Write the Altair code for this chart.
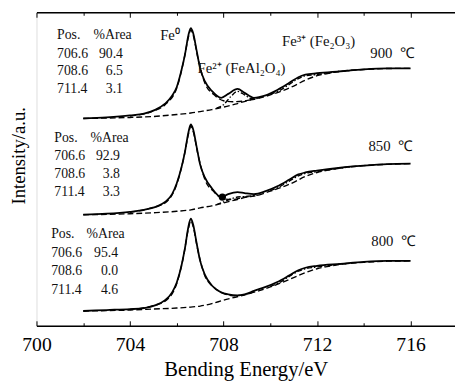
import altair as alt
import pandas as pd

SERIF = "Liberation Serif"

# ---- envelope (measured spectrum), solid ----
E_ENV = [702, 703, 704, 704.6, 705.1, 705.5, 705.8, 706.0, 706.2, 706.35, 706.5, 706.6, 706.7, 706.85,
         707.0, 707.2, 707.5, 707.9, 708.2, 708.6, 708.9, 709.3, 709.8, 710.3, 710.8, 711.2, 711.5,
         712, 713, 714, 715, 716]
ENV_900 = [211, 212, 214, 216, 220, 226, 234, 243, 260, 276, 296, 303, 298, 280, 262, 249, 239, 232,
           236, 241, 237, 232, 234.5, 240, 247, 253, 255.5, 257, 259, 261, 262, 262]
ENV_850 = [113, 114, 116, 118, 121, 126, 134, 145, 161, 177, 197, 205, 200, 182, 164, 151, 140, 131,
           134, 136, 135, 134, 137, 142, 148.5, 154, 156, 158, 161, 163, 164.5, 165]
ENV_800 = [15, 16, 17, 18, 21, 26, 34, 44, 61, 79, 101, 109, 103, 84, 66, 52, 41, 34, 32, 31, 32,
           35.5, 39.5, 44.5, 51, 56.5, 59, 61, 63, 65, 66, 66]

# ---- background ----
E_BG = [702, 704, 705, 706, 706.6, 707, 707.5, 708, 708.5, 709, 709.5, 710, 710.5, 711, 711.5, 712,
        712.5, 713, 714, 715, 716]
BG_900 = [211, 212, 213, 215, 216.5, 218, 220, 222.5, 225.5, 229, 231.5, 235, 239, 244, 250, 254.5,
          257, 259, 260.8, 261.8, 262]
BG_850 = [113, 114, 115, 116.5, 118, 120, 122, 125, 128, 131, 133, 137, 141, 146, 152, 156, 158.5,
          160.5, 163, 164.3, 165]
BG_800 = [15, 16, 17, 18, 19, 20, 22.5, 26, 29, 32, 35.5, 39.5, 44, 49, 54, 58, 60.5, 62.5, 64.5,
          65.7, 66]

# ---- Fe0 component ----
E_FE0 = [704, 705, 705.5, 706.0, 706.3, 706.5, 706.6, 706.7, 706.9, 707.2, 707.6, 708.0, 708.4,
         708.8, 709.2]
FE0_900 = [213.5, 218.5, 225, 242, 270, 294, 301, 296, 273, 247, 235, 229, 228, 228.5, 230]
FE0_850 = [115.5, 120.5, 125, 144, 171, 195, 203, 198, 175, 149, 136, 129, 128.5, 130.5, 132]
FE0_800 = [16.5, 20.5, 25, 43, 72, 99, 107, 101, 77, 51, 39, 33, 30.5, 31.2, 33.5]

# ---- Fe2+ component ----
E_FE2 = [707.7, 708.0, 708.3, 708.6, 708.9, 709.2, 709.5]
FE2_900 = [221.5, 225, 233, 238.5, 235, 231, 231.5]
FE2_850 = [123.2, 126, 129, 131, 131.5, 132.2, 133]

# ---- Fe3+ component ----
E_FE3 = [710.0, 710.4, 710.8, 711.2, 711.5, 711.9, 712.4, 712.9, 713.4]
FE3_900 = [235.5, 239.5, 245.5, 251.5, 254.5, 255.5, 257, 258.8, 259.7]
FE3_850 = [137.5, 141.5, 147, 152.5, 155, 156.5, 158.5, 160.2, 161.5]
FE3_800 = [40, 44, 50, 55.5, 58, 59.5, 61, 62.5, 63.5]

# marker dot on 850 spectrum
DOT_E = [707.95]
DOT_I = [131]

# ---- annotation texts ----
TAB_COL1 = ["Pos.", "706.6", "708.6", "711.4", "Pos.", "706.6", "708.6", "711.4", "Pos.", "706.6", "708.6", "711.4"]
TAB_COL1_E = [700.88] * 4 + [700.76] * 4 + [700.63] * 4
TAB_ROW_I = [296.3, 276.3, 259, 240.7, 191.3, 173, 154.7, 136.3, 93, 74, 55.3, 36.3]
HDR_TEXT = ["%Area", "%Area", "%Area"]
HDR_E = [702.44, 702.31, 702.14]
HDR_I = [296.3, 191.3, 93]
AREA_TEXT = ["90.4", "6.5", "3.1", "92.9", "3.8", "3.3", "95.4", "0.0", "4.6"]
AREA_E = [703.70] * 3 + [703.57] * 3 + [703.49] * 3
AREA_I = [276.3, 259, 240.7, 173, 154.7, 136.3, 74, 55.3, 36.3]

LABEL_TEXT = ["Fe\u2070", "Fe\u00b2\u207a (FeAl\u2082O\u2084)", "Fe\u00b3\u207a (Fe\u2082O\u2083)",
              "900\u2002\u2103", "850\u2002\u2103", "800\u2002\u2103"]
LABEL_E = [705.29, 706.89, 710.50, 714.28, 714.20, 714.32]
LABEL_I = [296, 262, 290, 278, 183, 86.3]

Y_TITLE = ["Intensity/a.u."]

TICKS = [700, 702, 704, 706, 708, 710, 712, 714, 716]


def long_frame(xs, series):
    rows = []
    for name, ys in series.items():
        for x, y in zip(xs, ys):
            rows.append({"E": x, "I": y, "spec": name})
    return pd.DataFrame(rows)


env = long_frame(E_ENV, {"900": ENV_900, "850": ENV_850, "800": ENV_800})
bg = long_frame(E_BG, {"900": BG_900, "850": BG_850, "800": BG_800})
fe0 = long_frame(E_FE0, {"900": FE0_900, "850": FE0_850, "800": FE0_800})
fe2 = long_frame(E_FE2, {"900": FE2_900, "850": FE2_850})
fe3 = long_frame(E_FE3, {"900": FE3_900, "850": FE3_850, "800": FE3_800})

XS = alt.Scale(domain=[700, 717.9], nice=False, zero=False)
YS = alt.Scale(domain=[0, 319], nice=False, zero=False)
x_none = alt.X("E:Q", scale=XS, axis=None)
y_none = alt.Y("I:Q", scale=YS, axis=None)

x_bottom = alt.X(
    "E:Q", scale=XS,
    axis=alt.Axis(
        orient="bottom", title="Bending Energy/eV", values=TICKS,
        labelExpr="datum.value % 4 === 0 ? datum.label : ''", labelFlush=False,
        ticks=False, domain=True, domainColor="black", domainWidth=1.5,
        grid=True, gridColor="black", gridWidth=1, gridOpacity=1,
        gridDash={"condition": {"test": "datum.value % 4 === 0", "value": [5, 309, 5, 1000]},
                  "value": [3, 313, 3, 1000]},
        labelFont=SERIF, labelFontSize=20, labelColor="black", labelPadding=9,
        titleFont=SERIF, titleFontSize=21, titleFontWeight="normal", titleColor="black",
        titlePadding=5,
    ),
)
y_left = alt.Y(
    "I:Q", scale=YS,
    axis=alt.Axis(
        orient="left", title="", labels=False, ticks=False, grid=False,
        domain=True, domainColor="black", domainWidth=1.5,
    ),
)
x_top = alt.X(
    "E:Q", scale=XS,
    axis=alt.Axis(orient="top", labels=False, ticks=False, grid=False, domain=True,
                  domainColor="black", domainWidth=1.5, title=""),
)

env_layer = alt.Chart(env).mark_line(color="black", strokeWidth=1.8, interpolate="monotone").encode(
    x=x_bottom, y=y_left, detail="spec:N")
bg_layer = alt.Chart(bg).mark_line(color="black", strokeWidth=1.4, strokeDash=[6, 3], interpolate="monotone").encode(
    x=x_top, y=y_none, detail="spec:N")
fe0_layer = alt.Chart(fe0).mark_line(color="black", strokeWidth=1.4, strokeDash=[6, 3], interpolate="monotone").encode(
    x=x_none, y=y_none, detail="spec:N")
fe2_layer = alt.Chart(fe2).mark_line(color="black", strokeWidth=1.4, strokeDash=[5, 2, 1.5, 2], interpolate="monotone").encode(
    x=x_none, y=y_none, detail="spec:N")
fe3_layer = alt.Chart(fe3).mark_line(color="black", strokeWidth=1.4, strokeDash=[5, 2, 1.5, 2], interpolate="monotone").encode(
    x=x_none, y=y_none, detail="spec:N")
dot_layer = alt.Chart(pd.DataFrame({"E": DOT_E, "I": DOT_I})).mark_circle(color="black", size=55, opacity=1).encode(
    x=x_none, y=y_none)

col1 = alt.Chart(pd.DataFrame({"E": TAB_COL1_E, "I": TAB_ROW_I, "t": TAB_COL1})).mark_text(
    align="left", baseline="middle", font=SERIF, fontSize=14, color="#111").encode(x=x_none, y=y_none, text="t:N")
hdr = alt.Chart(pd.DataFrame({"E": HDR_E, "I": HDR_I, "t": HDR_TEXT})).mark_text(
    align="left", baseline="middle", font=SERIF, fontSize=14, color="#111").encode(x=x_none, y=y_none, text="t:N")
area = alt.Chart(pd.DataFrame({"E": AREA_E, "I": AREA_I, "t": AREA_TEXT})).mark_text(
    align="right", baseline="middle", font=SERIF, fontSize=14, color="#111").encode(x=x_none, y=y_none, text="t:N")
labels = alt.Chart(pd.DataFrame({"E": LABEL_E, "I": LABEL_I, "t": LABEL_TEXT})).mark_text(
    align="left", baseline="middle", font=SERIF, fontSize=15, color="#111").encode(x=x_none, y=y_none, text="t:N")
ytitle = alt.Chart(pd.DataFrame({"t": Y_TITLE})).mark_text(
    angle=270, align="center", baseline="alphabetic", font=SERIF, fontSize=19, color="black").encode(
    x=alt.value(-12), y=alt.value(146), text="t:N")

chart = alt.layer(
    env_layer, bg_layer, fe0_layer, fe2_layer, fe3_layer, dot_layer, col1, hdr, area, labels, ytitle
).resolve_axis(x="independent").properties(
    width=426, height=319,
    autosize=alt.AutoSizeParams(type="none"),
    padding={"left": 29, "top": 1, "right": 0, "bottom": 62},
).configure_view(strokeWidth=0).configure(background="white", font=SERIF)

chart.save("out.html", embed_options={"renderer": "svg", "actions": False})
